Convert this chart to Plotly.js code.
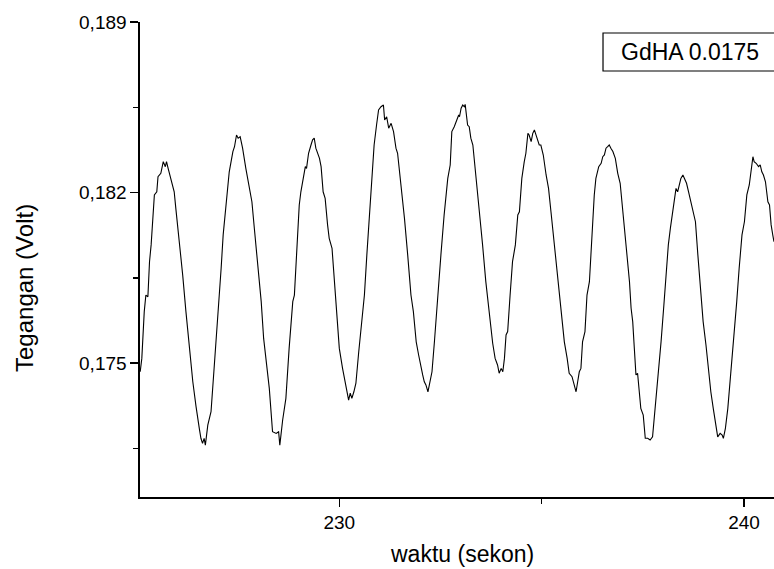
<!DOCTYPE html>
<html>
<head>
<meta charset="utf-8">
<script src="https://cdn.plot.ly/plotly-3.0.1.min.js"></script>
<style>
  html, body { margin: 0; padding: 0; background: #fff; }
  #chart { width: 774px; height: 569px; }
</style>
</head>
<body>
<div id="chart"></div>
<script>
// time (s)
const waktu = [
  225.08,225.12,225.18,225.22,225.27,225.31,225.35,225.39,225.43,225.49,
  225.52,225.59,225.65,225.70,225.73,225.77,225.84,225.92,225.96,226.05,
  226.13,226.21,226.29,226.38,226.46,226.50,226.54,226.58,226.62,226.66,
  226.69,226.75,226.83,226.90,226.95,227.03,227.08,227.13,227.18,227.24,
  227.28,227.37,227.41,227.46,227.50,227.55,227.61,227.69,227.78,227.84,
  227.90,227.98,228.07,228.13,228.19,228.27,228.35,228.44,228.50,228.53,
  228.60,228.68,228.76,228.85,228.89,228.97,229.01,
  229.05,229.11,229.16,229.19,229.24,229.30,229.34,229.38,229.42,229.51,
  229.55,229.60,229.65,229.71,229.75,229.82,229.88,229.92,230.00,230.08,
  230.15,230.18,230.23,230.27,230.31,230.36,230.41,230.48,230.54,230.62,
  230.68,230.74,230.81,230.86,230.92,230.97,231.03,231.09,231.12,231.17,
  231.22,231.28,231.34,231.40,231.44,231.52,231.61,231.69,231.77,231.83,
  231.90,231.96,232.02,232.06,232.10,232.14,232.19,232.24,232.29,232.35,
  232.43,232.51,232.59,232.68,232.74,232.78,232.84,232.88,232.95,
  232.97,233.01,233.05,233.09,233.11,233.17,233.21,233.25,233.30,233.34,
  233.38,233.42,233.48,233.54,233.62,233.69,233.75,233.79,233.85,233.91,
  233.95,234.00,234.04,234.08,234.12,234.16,234.22,234.28,234.35,234.41,
  234.45,234.51,234.57,234.61,234.66,234.69,234.74,234.78,234.82,234.86,
  234.90,234.94,234.98,235.04,235.11,235.17,235.23,235.31,235.40,235.48,
  235.56,235.63,235.68,235.75,235.81,235.85,235.89,235.93,235.97,236.01,
  236.07,236.12,236.18,236.22,236.26,236.30,236.34,236.41,236.47,236.51,
  236.55,236.59,236.63,236.67,236.71,236.76,236.82,236.88,
  236.94,237.00,237.04,237.10,237.17,237.21,237.25,237.29,237.33,237.37,
  237.41,237.45,237.51,237.56,237.62,237.68,237.74,237.78,237.83,237.89,
  237.95,238.02,238.07,238.13,238.18,238.22,238.28,238.32,238.36,238.40,
  238.44,238.49,238.52,238.58,238.63,238.69,238.75,238.80,238.86,238.94,
  238.99,239.06,239.13,239.18,239.24,239.29,239.35,239.41,239.46,239.49,
  239.54,239.60,239.68,239.76,239.82,239.88,239.95,240.01,240.07,240.13,
  240.17,240.22,240.25,240.30,240.36,240.40,240.44,240.48,240.53,240.59,
  240.63,240.67,240.71,240.74
];
// voltage (V)
const tegangan = [
  0.17464,0.17519,0.17711,0.17779,0.17772,0.17916,0.17985,0.18080,0.18190,0.18203,
  0.18265,0.18279,0.18327,0.18306,0.18327,0.18299,0.18251,0.18203,0.18135,0.17998,
  0.17861,0.17711,0.17560,0.17423,0.17321,0.17266,0.17232,0.17191,0.17170,0.17191,
  0.17163,0.17245,0.17300,0.17464,0.17574,0.17779,0.17889,0.18026,0.18121,0.18231,
  0.18285,0.18368,0.18388,0.18436,0.18423,0.18429,0.18382,0.18299,0.18210,0.18162,
  0.18053,0.17916,0.17752,0.17601,0.17519,0.17396,0.17218,0.17211,0.17218,0.17163,
  0.17266,0.17355,0.17560,0.17752,0.17779,0.18012,0.18149,
  0.18203,0.18251,0.18306,0.18299,0.18361,0.18395,0.18416,0.18423,0.18382,0.18340,
  0.18306,0.18203,0.18176,0.18067,0.18012,0.17971,0.17834,0.17711,0.17560,0.17478,
  0.17410,0.17382,0.17348,0.17376,0.17355,0.17382,0.17417,0.17546,0.17656,0.17779,
  0.17943,0.18094,0.18258,0.18395,0.18477,0.18539,0.18552,0.18559,0.18498,0.18511,
  0.18464,0.18484,0.18450,0.18382,0.18361,0.18244,0.18094,0.17943,0.17779,0.17711,
  0.17587,0.17533,0.17478,0.17451,0.17423,0.17410,0.17382,0.17423,0.17464,0.17587,
  0.17779,0.17943,0.18108,0.18258,0.18313,0.18450,0.18470,0.18491,0.18518,
  0.18511,0.18546,0.18559,0.18552,0.18562,0.18477,0.18470,0.18423,0.18395,0.18327,
  0.18258,0.18217,0.18108,0.17985,0.17834,0.17725,0.17656,0.17581,0.17519,0.17492,
  0.17458,0.17478,0.17464,0.17519,0.17615,0.17629,0.17779,0.17916,0.17985,0.18108,
  0.18121,0.18258,0.18327,0.18361,0.18443,0.18436,0.18409,0.18443,0.18457,0.18436,
  0.18423,0.18395,0.18395,0.18354,0.18272,0.18217,0.18121,0.17998,0.17834,0.17711,
  0.17587,0.17519,0.17458,0.17444,0.17410,0.17382,0.17423,0.17464,0.17478,0.17587,
  0.17629,0.17779,0.17834,0.17957,0.18067,0.18190,0.18258,0.18306,0.18320,0.18347,
  0.18354,0.18382,0.18388,0.18395,0.18382,0.18368,0.18340,0.18279,
  0.18238,0.18135,0.18080,0.17957,0.17834,0.17725,0.17670,0.17560,0.17451,0.17458,
  0.17369,0.17314,0.17286,0.17191,0.17191,0.17184,0.17197,0.17273,0.17355,0.17451,
  0.17587,0.17738,0.17861,0.17985,0.18053,0.18101,0.18190,0.18217,0.18203,0.18238,
  0.18258,0.18272,0.18258,0.18238,0.18203,0.18162,0.18121,0.18080,0.17943,0.17779,
  0.17670,0.17574,0.17451,0.17382,0.17314,0.17259,0.17197,0.17211,0.17204,0.17191,
  0.17232,0.17314,0.17464,0.17642,0.17752,0.17889,0.18026,0.18080,0.18190,0.18231,
  0.18285,0.18347,0.18327,0.18320,0.18306,0.18313,0.18285,0.18272,0.18244,0.18162,
  0.18149,0.18067,0.18026,0.17998
];
const seriesName = "GdHA 0.0175";
const xTitle = "waktu (sekon)";
const yTitle = "Tegangan (Volt)";

const FONT = "Arial, 'Liberation Sans', sans-serif";

const trace = {
  x: waktu,
  y: tegangan,
  type: "scatter",
  mode: "lines",
  name: seriesName,
  line: { color: "#000000", width: 1.1 },
  hoverinfo: "skip"
};

const layout = {
  width: 774,
  height: 569,
  paper_bgcolor: "#ffffff",
  plot_bgcolor: "#ffffff",
  separators: ",.",
  showlegend: false,
  margin: { l: 140, r: 0, t: 22, b: 72, pad: 0 },
  font: { family: FONT, color: "#000000", size: 19 },
  xaxis: {
    range: [225.075, 240.741],
    showline: true, linecolor: "#000", linewidth: 1.6,
    showgrid: false, zeroline: false,
    ticks: "outside", ticklen: 8, tickwidth: 1.5, tickcolor: "#000",
    tick0: 230, dtick: 10,
    minor: { ticks: "outside", dtick: 5, tick0: 230, ticklen: 5, tickwidth: 1.5, tickcolor: "#000", showgrid: false },
    tickfont: { family: FONT, size: 19, color: "#000" },
    automargin: false
  },
  yaxis: {
    range: [0.1695, 0.189],
    showline: true, linecolor: "#000", linewidth: 1.6,
    showgrid: false, zeroline: false,
    ticks: "outside", ticklen: 8, tickwidth: 1.5, tickcolor: "#000",
    tick0: 0.175, dtick: 0.007, tickformat: ".3f",
    minor: { ticks: "outside", dtick: 0.0035, tick0: 0.175, ticklen: 5, tickwidth: 1.5, tickcolor: "#000", showgrid: false },
    tickfont: { family: FONT, size: 19, color: "#000" },
    automargin: false
  },
  shapes: [{
    type: "rect", xref: "paper", yref: "paper",
    x0: 0.7303, x1: 1.05, y0: 0.8968, y1: 0.9768,
    line: { color: "#000", width: 1.2 },
    fillcolor: "rgba(255,255,255,0)"
  }],
  annotations: [
    {
      xref: "paper", yref: "paper",
      x: 0.8675, y: 0.9368, xanchor: "center", yanchor: "middle",
      text: seriesName, showarrow: false,
      font: { family: FONT, size: 23, color: "#000" }
    },
    {
      xref: "paper", yref: "paper",
      x: 0.5080, y: -0.1190, xanchor: "center", yanchor: "middle",
      text: xTitle, showarrow: false,
      font: { family: FONT, size: 23, color: "#000" }
    },
    {
      xref: "paper", yref: "paper",
      x: -0.1830, y: 0.4400, xanchor: "center", yanchor: "middle",
      text: yTitle, showarrow: false, textangle: -90,
      font: { family: FONT, size: 24, color: "#000" }
    }
  ]
};

Plotly.newPlot("chart", [trace], layout, { staticPlot: true, displayModeBar: false });
</script>
</body>
</html>
